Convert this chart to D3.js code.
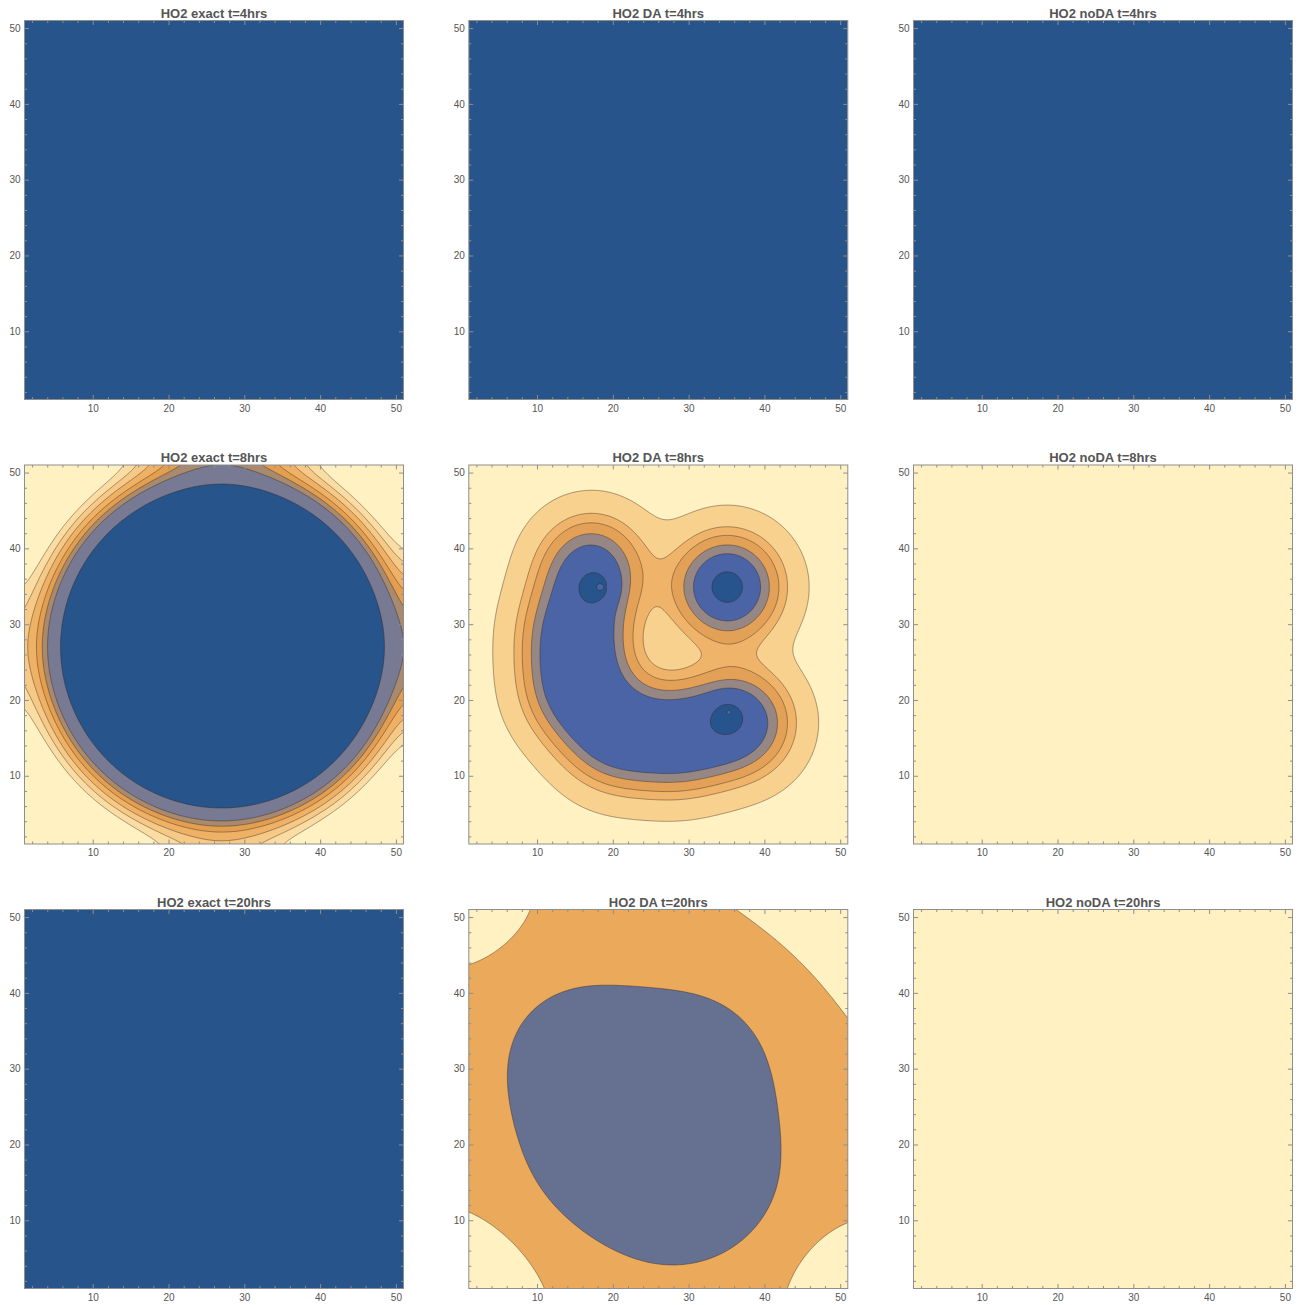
<!DOCTYPE html>
<html><head><meta charset="utf-8">
<script src="https://cdn.jsdelivr.net/npm/d3@7"></script>
<style>
body{margin:0;background:#fff}
text{font-family:"Liberation Sans",Arial,sans-serif}
</style>
</head><body>
<svg id="chart" width="1300" height="1305"></svg>
<script>
// ---------------- DATA ----------------
const panelTitles = [
  "HO2 exact t=4hrs", "HO2 DA t=4hrs", "HO2 noDA t=4hrs",
  "HO2 exact t=8hrs", "HO2 DA t=8hrs", "HO2 noDA t=8hrs",
  "HO2 exact t=20hrs", "HO2 DA t=20hrs", "HO2 noDA t=20hrs"
];
const axisDomain = [1, 51];
const majorTicks = [10, 20, 30, 40, 50];
const minorTicks = [2,4,6,8,12,14,16,18,22,24,26,28,32,34,36,38,42,44,46,48];

// uniform panels (single contour band)
const uniformPanelColor = {
  "HO2 exact t=4hrs": "#27548a", "HO2 DA t=4hrs": "#27548a", "HO2 noDA t=4hrs": "#27548a",
  "HO2 noDA t=8hrs": "#fff1c2", "HO2 exact t=20hrs": "#27548a", "HO2 noDA t=20hrs": "#fff1c2"
};

// exact t=8hrs : radial field around the centre, with mirrored boundary sources [x, y, sigma, amplitude]
const exactT8Sources = [[27, 27, 8.4, 1], [-25, 27, 8.4, 0.5], [75, 27, 8.4, 0.5], [27, -25, 8.4, 0.5], [27, 75, 8.4, 0.5]];
const exactT8RingRadii = [26.2, 25.4, 24.7, 24.0, 23.4, 22.8, 21.2];   // outer -> inner contour radii
const exactT8Colors = ["#fff1c2", "#fbdca3", "#f7c986", "#efb165", "#e39f4f", "#a98a6e", "#787a93", "#27548a"];

// DA t=8hrs : sources [x, y, sigma, amplitude]
const daT8Sources = [
  [17.2, 37.4, 4.6, 1.0], [15.0, 29.0, 4.6, 1], [15.3, 21.3, 4.6, 1], [20.5, 15.3, 4.6, 1], [28.6, 14.7, 4.6, 1], [36.6, 17.0, 4.6, 1.15],
  [35.1, 34.9, 4.6, 1.31],
  [17.6, 34.9, 1.5, 1.0], [35.1, 34.9, 1.5, 1.12], [35.2, 17.8, 1.5, 0.85],
  [18.2, 34.9, 0.35, -0.9], [35.3, 18.3, 0.3, -0.7]
];
const daT8Levels = [0.083, 0.294, 0.438, 0.633, 0.846, 1.65];
const daT8Colors = ["#fff1c2", "#f8d18e", "#efb46a", "#e3a158", "#968784", "#4a64a6", "#27548c"];

// DA t=20hrs : baseline + sources [x, y, sigma, amplitude] (negative = corner wells)
const daT20Base = 0.2;
const daT20Sources = [
  [15.5, 31.5, 8, 1], [31, 30.5, 8, 1], [32.5, 16, 8, 1], [19, 18.5, 8, 1], [27, 11.5, 6, 0.45],
  [1, 51, 5, -0.32], [1, 1, 6, -0.45], [51, 1, 5, -0.45], [75, 75, 20, -1.1]
];
const daT20Levels = [0.15, 0.8];
const daT20Colors = ["#fff1c2", "#ebaa5b", "#667090"];

// ---------------- BUILD ----------------
function ringLevels(radii, sigma) { return radii.map(r => Math.exp(-r * r / (2 * sigma * sigma))); }

const contourPanels = {
  "HO2 exact t=8hrs": {base: 0, sources: exactT8Sources, levels: ringLevels(exactT8RingRadii, 8.4), colors: exactT8Colors},
  "HO2 DA t=8hrs": {base: 0, sources: daT8Sources, levels: daT8Levels, colors: daT8Colors},
  "HO2 DA t=20hrs": {base: daT20Base, sources: daT20Sources, levels: daT20Levels, colors: daT20Colors}
};

const svg = d3.select("#chart");
const colLefts = [24.5, 468.8, 913.5];
const rowTops = [20.5, 465, 909.5];
const W = 379, H = 379;
const frameColor = "#8e8e8e";
const labelColor = "#555";

panelTitles.forEach((title, idx) => {
  const left = colLefts[idx % 3], top = rowTops[Math.floor(idx / 3)];
  const xs = d3.scaleLinear().domain(axisDomain).range([left, left + W]);
  const ys = d3.scaleLinear().domain(axisDomain).range([top + H, top]);
  const g = svg.append("g");
  const clipId = "clip" + idx;
  g.append("clipPath").attr("id", clipId).append("rect")
    .attr("x", left).attr("y", top).attr("width", W).attr("height", H);
  const plot = g.append("g").attr("clip-path", `url(#${clipId})`);

  const cp = contourPanels[title];
  if (!cp) {
    plot.append("rect").attr("x", left).attr("y", top).attr("width", W).attr("height", H)
      .attr("fill", uniformPanelColor[title]);
  } else {
    plot.append("rect").attr("x", left).attr("y", top).attr("width", W).attr("height", H)
      .attr("fill", cp.colors[0]);
    const step = 0.125;
    const N = Math.round((axisDomain[1] - axisDomain[0]) / step) + 1;
    const values = new Float64Array(N * N);
    const srcs = cp.sources.map(s => [s[0], s[1], 1 / (2 * s[2] * s[2]), s[3]]);
    for (let j = 0; j < N; j++) {
      const y = axisDomain[0] + j * step;
      for (let i = 0; i < N; i++) {
        const x = axisDomain[0] + i * step;
        let f = cp.base;
        for (const s of srcs) {
          const dx = x - s[0], dy = y - s[1];
          f += s[3] * Math.exp(-(dx * dx + dy * dy) * s[2]);
        }
        values[j * N + i] = f;
      }
    }
    const contours = d3.contours().size([N, N]).thresholds(cp.levels)(values);
    const proj = d3.geoTransform({
      point(x, y) {
        this.stream.point(xs(axisDomain[0] + (x - 0.5) * step), ys(axisDomain[0] + (y - 0.5) * step));
      }
    });
    const path = d3.geoPath(proj);
    plot.selectAll("path.band").data(contours).join("path").attr("class", "band")
      .attr("d", path)
      .attr("fill", (d, i) => cp.colors[i + 1])
      .attr("stroke", "rgba(45,35,30,0.6)")
      .attr("stroke-width", 0.7)
      .attr("stroke-linejoin", "round");
  }

  // ticks (inside the frame, all four sides)
  const styleAxis = sel => {
    sel.select(".domain").remove();
    sel.selectAll(".tick line").attr("stroke", frameColor);
    sel.selectAll("text").attr("fill", labelColor).style("font-size", "10px")
      .style("font-family", '"Liberation Sans", Arial, sans-serif');
  };
  const bottomY = top + H, rightX = left + W;
  g.append("g").attr("transform", `translate(0,${bottomY})`)
    .call(d3.axisBottom(xs).tickValues(majorTicks).tickSizeInner(-4.5).tickSizeOuter(0).tickPadding(5).tickFormat(d3.format("d")))
    .call(styleAxis);
  g.append("g").attr("transform", `translate(0,${bottomY})`)
    .call(d3.axisBottom(xs).tickValues(minorTicks).tickSizeInner(-2.5).tickSizeOuter(0).tickFormat(""))
    .call(styleAxis);
  g.append("g").attr("transform", `translate(0,${top})`)
    .call(d3.axisTop(xs).tickValues(majorTicks).tickSizeInner(-4.5).tickSizeOuter(0).tickFormat(""))
    .call(styleAxis);
  g.append("g").attr("transform", `translate(0,${top})`)
    .call(d3.axisTop(xs).tickValues(minorTicks).tickSizeInner(-2.5).tickSizeOuter(0).tickFormat(""))
    .call(styleAxis);
  g.append("g").attr("transform", `translate(${left},0)`)
    .call(d3.axisLeft(ys).tickValues(majorTicks).tickSizeInner(-4.5).tickSizeOuter(0).tickPadding(4).tickFormat(d3.format("d")))
    .call(styleAxis);
  g.append("g").attr("transform", `translate(${left},0)`)
    .call(d3.axisLeft(ys).tickValues(minorTicks).tickSizeInner(-2.5).tickSizeOuter(0).tickFormat(""))
    .call(styleAxis);
  g.append("g").attr("transform", `translate(${rightX},0)`)
    .call(d3.axisRight(ys).tickValues(majorTicks).tickSizeInner(-4.5).tickSizeOuter(0).tickFormat(""))
    .call(styleAxis);
  g.append("g").attr("transform", `translate(${rightX},0)`)
    .call(d3.axisRight(ys).tickValues(minorTicks).tickSizeInner(-2.5).tickSizeOuter(0).tickFormat(""))
    .call(styleAxis);

  g.append("rect").attr("x", left).attr("y", top).attr("width", W).attr("height", H)
    .attr("fill", "none").attr("stroke", frameColor).attr("stroke-width", 1);

  g.append("text").attr("x", left + W / 2).attr("y", top - 3)
    .attr("text-anchor", "middle").attr("fill", labelColor)
    .style("font-size", "13px").style("font-weight", "bold")
    .text(title);
});
</script>
</body></html>
